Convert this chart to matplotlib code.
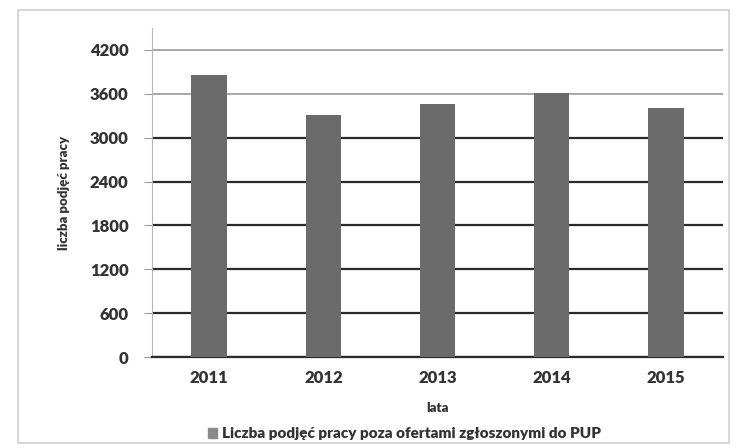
import matplotlib.pyplot as plt
from matplotlib.patches import Rectangle

years = ['2011', '2012', '2013', '2014', '2015']
values = [3860, 3310, 3460, 3610, 3410]
yticks = [0, 600, 1200, 1800, 2400, 3000, 3600, 4200]

bar_color = '#6b6b6b'
text_color = '#333333'

plt.rcParams['font.family'] = ['Lato', 'DejaVu Sans']

fig = plt.figure(figsize=(7.39, 4.48), dpi=100)
ax = fig.add_axes([0.2057, 0.2031, 0.7727, 0.7344])

# light frame around the whole chart
fig.patches.append(Rectangle((0.025, 0.012), 0.962, 0.966, transform=fig.transFigure,
                             fill=False, edgecolor='#cfcfcf', linewidth=1.2))

x = range(len(years))
ax.bar(x, values, width=0.31, color=bar_color, zorder=3)

ax.set_xlim(-0.5, 4.5)
ax.set_ylim(0, 4500)
ax.set_yticks(yticks)
ax.set_xticks(list(x))
ax.set_xticklabels(years)

ax.yaxis.grid(True, linewidth=1.6, zorder=0)
for val, gl in zip(yticks, ax.get_ygridlines()):
    if val >= 3600:
        gl.set_color('#9a9a9a')
        gl.set_linewidth(1.2)
    else:
        gl.set_color('#2a2a2a')

for side in ['top', 'right']:
    ax.spines[side].set_visible(False)
ax.spines['left'].set_color('#b5b5b5')
ax.spines['bottom'].set_color('#2a2a2a')
ax.spines['bottom'].set_linewidth(1.6)

ax.tick_params(axis='y', length=6, color='#9a9a9a', labelsize=12, labelcolor=text_color, pad=11)
ax.tick_params(axis='x', length=0, labelsize=12, labelcolor=text_color, pad=9)
for lab in ax.get_xticklabels() + ax.get_yticklabels():
    lab.set_fontweight('heavy')

ax.set_ylabel('liczba podjęć pracy', fontsize=9.5, fontweight='heavy', color=text_color)
ax.yaxis.set_label_coords(-0.144, 0.5)
ax.set_xlabel('lata', fontsize=9.5, fontweight='heavy', color=text_color, labelpad=12)

handle = Rectangle((0, 0), 1, 1, color='#8a8a8a')
fig.legend([handle], ['Liczba podjęć pracy poza ofertami zgłoszonymi do PUP'],
           loc='center', bbox_to_anchor=(0.547, 0.032), frameon=False,
           prop={'size': 11, 'weight': 'heavy'}, handlelength=0.6, handleheight=0.6,
           handletextpad=0.3, labelcolor=text_color)

fig.savefig('out.png', dpi=100, facecolor='white')
